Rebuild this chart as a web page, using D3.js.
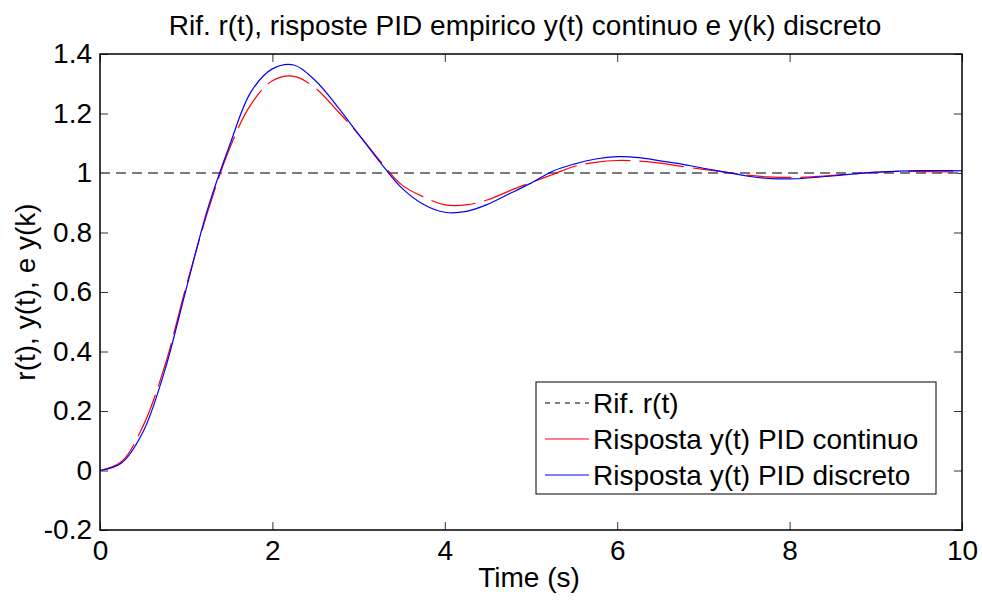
<!DOCTYPE html>
<html>
<head>
<meta charset="utf-8">
<script src="https://cdn.jsdelivr.net/npm/d3@7"></script>
<style>
  body { margin: 0; background: #fff; }
  svg { font-family: "Liberation Sans", Arial, sans-serif; }
</style>
</head>
<body>
<div id="chart"></div>
<script>
// Time grid (s)
const time = [0, 0.25, 0.5, 0.75, 1, 1.25, 1.5, 1.75, 2, 2.25, 2.5, 2.75, 3, 3.25, 3.5, 3.75,
  4, 4.25, 4.5, 4.75, 5, 5.25, 5.5, 5.75, 6, 6.25, 6.5, 6.75, 7, 7.25, 7.5, 7.75,
  8, 8.25, 8.5, 8.75, 9, 9.25, 9.5, 9.75, 10];

// Risposta y(t) PID continuo
const yContinuo = [0, 0.03, 0.15, 0.35, 0.62, 0.87, 1.08, 1.23, 1.31, 1.325, 1.285, 1.21, 1.13, 1.04, 0.96, 0.92,
  0.893, 0.893, 0.91, 0.94, 0.968, 0.995, 1.022, 1.036, 1.042, 1.04, 1.033, 1.022, 1.012, 1.003, 0.993, 0.987,
  0.985, 0.987, 0.992, 0.998, 1.002, 1.005, 1.005, 1.004, 1.004];

// Risposta y(t) PID discreto
const yDiscreto = [0, 0.025, 0.13, 0.335, 0.61, 0.88, 1.09, 1.272, 1.35, 1.363, 1.31, 1.225, 1.13, 1.036, 0.95, 0.895,
  0.868, 0.871, 0.895, 0.93, 0.966, 1.006, 1.03, 1.047, 1.055, 1.052, 1.041, 1.03, 1.016, 1.003, 0.99, 0.982,
  0.98, 0.984, 0.99, 0.997, 1.003, 1.006, 1.008, 1.008, 1.007];

// Riferimento r(t)
const refTime = [0, 10];
const refValue = [1, 1];

const xTicks = [0, 2, 4, 6, 8, 10];
const yTicks = [-0.2, 0, 0.2, 0.4, 0.6, 0.8, 1, 1.2, 1.4];

const legendLabels = ['Rif. r(t)', 'Risposta y(t) PID continuo', 'Risposta y(t) PID discreto'];

const W = 982, H = 601;
const margin = { top: 54, right: 20, bottom: 71, left: 100 };
const width = W - margin.left - margin.right;
const height = H - margin.top - margin.bottom;
const fontSize = '28px';

const svg = d3.select('#chart').append('svg')
  .attr('width', W)
  .attr('height', H);

const g = svg.append('g').attr('transform', `translate(${margin.left},${margin.top})`);

const x = d3.scaleLinear().domain([0, 10]).range([0, width]);
const y = d3.scaleLinear().domain([-0.2, 1.4]).range([height, 0]);

// MATLAB style labels: plain hyphen, no trailing zeros
const fmt = d => (Math.abs(d) < 1e-9 ? '0' : String(+d.toFixed(1)));
const tickLen = 8;

// axes with inward ticks on all four sides
const styleAxis = sel => {
  sel.select('.domain').remove();
  sel.selectAll('.tick line').attr('stroke', '#333').attr('stroke-width', 1);
  sel.selectAll('.tick text').attr('fill', '#000').style('font-size', fontSize);
};

g.append('g')
  .attr('transform', `translate(0,${height})`)
  .call(d3.axisBottom(x).tickValues(xTicks).tickFormat(fmt).tickSizeInner(-tickLen).tickSizeOuter(0).tickPadding(10))
  .call(styleAxis);

g.append('g')
  .call(d3.axisTop(x).tickValues(xTicks).tickFormat('').tickSizeInner(-tickLen).tickSizeOuter(0))
  .call(styleAxis);

g.append('g')
  .call(d3.axisLeft(y).tickValues(yTicks).tickFormat(fmt).tickSizeInner(-tickLen).tickSizeOuter(0).tickPadding(8))
  .call(styleAxis);

g.append('g')
  .attr('transform', `translate(${width},0)`)
  .call(d3.axisRight(y).tickValues(yTicks).tickFormat('').tickSizeInner(-tickLen).tickSizeOuter(0))
  .call(styleAxis);

// lines
const line = d3.line()
  .x(d => x(d[0]))
  .y(d => y(d[1]))
  .curve(d3.curveCatmullRom.alpha(0.5));

g.append('path')
  .datum(refTime.map((t, i) => [t, refValue[i]]))
  .attr('d', line)
  .attr('fill', 'none')
  .attr('stroke', '#7a7a7a')
  .attr('stroke-width', 2)
  .attr('stroke-dasharray', '10,6');

g.append('path')
  .datum(time.map((t, i) => [t, yContinuo[i]]))
  .attr('d', line)
  .attr('fill', 'none')
  .attr('stroke', '#ff0000')
  .attr('stroke-width', 1.2)
  .attr('stroke-dasharray', '45,9');

g.append('path')
  .datum(time.map((t, i) => [t, yDiscreto[i]]))
  .attr('d', line)
  .attr('fill', 'none')
  .attr('stroke', '#0000ff')
  .attr('stroke-width', 1.2);

// box
g.append('rect')
  .attr('width', width)
  .attr('height', height)
  .attr('fill', 'none')
  .attr('stroke', '#000')
  .attr('stroke-width', 1.5);

// title and axis labels
svg.append('text')
  .attr('x', 525)
  .attr('y', 35)
  .attr('text-anchor', 'middle')
  .style('font-size', fontSize)
  .text('Rif. r(t), risposte PID empirico y(t) continuo e y(k) discreto');

svg.append('text')
  .attr('x', 529)
  .attr('y', 587)
  .attr('text-anchor', 'middle')
  .style('font-size', fontSize)
  .text('Time (s)');

svg.append('text')
  .attr('transform', `translate(35,${margin.top + height / 2}) rotate(-90)`)
  .attr('text-anchor', 'middle')
  .style('font-size', fontSize)
  .text('r(t), y(t), e y(k)');

// legend
const legend = svg.append('g').attr('transform', 'translate(536,382)');
legend.append('rect')
  .attr('width', 400)
  .attr('height', 112)
  .attr('fill', '#fff')
  .attr('stroke', '#000')
  .attr('stroke-width', 1);

const legendStyles = [
  { color: '#000', dash: '5,5' },
  { color: '#ff0000', dash: null },
  { color: '#0000ff', dash: null }
];

legendLabels.forEach((label, i) => {
  const cy = 21 + i * 36;
  legend.append('line')
    .attr('x1', 9).attr('x2', 53)
    .attr('y1', cy).attr('y2', cy)
    .attr('stroke', legendStyles[i].color)
    .attr('stroke-width', 1)
    .attr('stroke-dasharray', legendStyles[i].dash);
  legend.append('text')
    .attr('x', 57)
    .attr('y', cy + 10)
    .style('font-size', fontSize)
    .text(label);
});
</script>
</body>
</html>
